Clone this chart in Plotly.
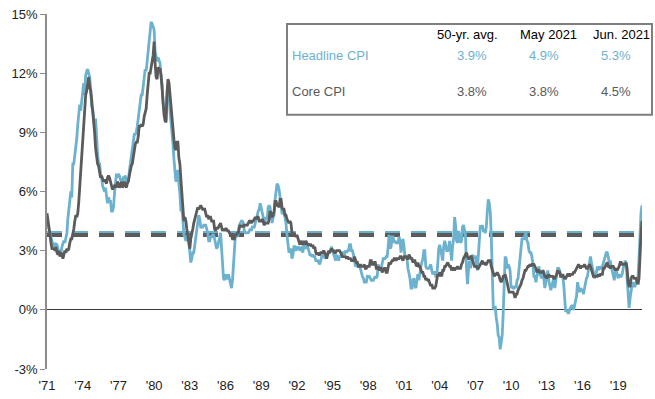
import pandas as pd
import plotly.graph_objects as go

# Year-over-year % change, monthly, Jun 1971 - Jun 2021
headline = [
    4.5, 4.3, 4.1, 3.9, 3.6, 3.4, 3.3,                             # 1971 (Jun-Dec)
    3.2, 3.4, 3.3, 3.3, 3.1, 2.9, 3.0, 2.9, 3.2, 3.4, 3.5, 3.4,   # 1972
    3.6, 3.9, 4.6, 5.1, 5.5, 6.0, 5.7, 7.4, 7.4, 7.8, 8.3, 8.7,   # 1973
    9.4, 10.0, 10.4, 10.1, 10.7, 10.9, 11.5, 10.9, 11.9, 12.1, 12.2, 12.0,  # 1974
    11.8, 11.2, 10.3, 10.2, 9.5, 9.3, 9.7, 8.6, 7.9, 7.4, 7.4, 6.9,  # 1975
    6.7, 6.3, 6.1, 6.0, 6.2, 5.9, 5.4, 5.7, 5.5, 5.5, 5.0, 5.0,   # 1976
    5.2, 5.9, 6.4, 6.9, 6.7, 6.9, 6.8, 6.6, 6.6, 6.4, 6.7, 6.7,   # 1977
    6.8, 6.4, 6.6, 6.5, 7.0, 7.4, 7.7, 7.9, 8.3, 8.9, 8.9, 9.0,   # 1978
    9.3, 9.9, 10.1, 10.5, 10.9, 10.9, 11.3, 11.8, 12.2, 12.1, 12.6, 13.3,  # 1979
    13.9, 14.2, 14.6, 14.5, 14.3, 14.2, 13.1, 12.9, 12.6, 12.8, 12.6, 12.5,  # 1980
    11.8, 11.4, 10.5, 10.0, 9.8, 9.6, 10.8, 10.8, 11.0, 10.1, 9.6, 8.9,  # 1981
    8.4, 7.6, 6.8, 6.5, 6.7, 7.1, 6.4, 5.9, 5.0, 5.1, 4.6, 3.8,   # 1982
    3.7, 3.5, 3.6, 3.9, 3.5, 2.6, 2.4, 2.6, 2.9, 2.9, 3.3, 3.8,   # 1983
    4.2, 4.6, 4.8, 4.6, 4.2, 4.2, 4.2, 4.3, 4.3, 4.3, 4.1, 3.9,   # 1984
    3.5, 3.5, 3.7, 3.7, 3.8, 3.8, 3.6, 3.3, 3.1, 3.2, 3.5, 3.8,   # 1985
    3.9, 3.1, 2.2, 1.6, 1.5, 1.8, 1.6, 1.6, 1.8, 1.5, 1.3, 1.1,   # 1986
    1.5, 2.1, 3.0, 3.8, 3.9, 3.7, 3.9, 4.3, 4.4, 4.5, 4.5, 4.4,   # 1987
    4.0, 3.9, 3.9, 3.9, 3.9, 4.0, 4.1, 4.0, 4.2, 4.2, 4.2, 4.4,   # 1988
    4.7, 4.8, 5.0, 5.1, 5.4, 5.2, 5.0, 4.7, 4.3, 4.5, 4.7, 4.6,   # 1989
    5.2, 5.3, 5.2, 4.7, 4.4, 4.7, 4.8, 5.6, 6.2, 6.4, 6.3, 6.1,   # 1990
    5.7, 5.3, 4.9, 4.9, 5.0, 4.7, 4.4, 3.8, 3.4, 2.9, 3.0, 3.1,   # 1991
    2.6, 2.8, 3.2, 3.2, 3.0, 3.1, 3.2, 3.1, 3.0, 3.2, 3.0, 2.9,   # 1992
    3.3, 3.2, 3.1, 3.2, 3.2, 3.0, 2.8, 2.8, 2.7, 2.8, 2.7, 2.7,   # 1993
    2.5, 2.5, 2.5, 2.4, 2.3, 2.5, 2.8, 2.9, 3.0, 2.6, 2.7, 2.7,   # 1994
    2.8, 2.9, 2.9, 3.1, 3.2, 3.0, 2.8, 2.6, 2.5, 2.8, 2.6, 2.5,   # 1995
    2.7, 2.7, 2.8, 2.9, 2.9, 2.8, 3.0, 2.9, 3.0, 3.0, 3.3, 3.3,   # 1996
    3.0, 3.0, 2.8, 2.5, 2.2, 2.3, 2.2, 2.2, 2.2, 2.1, 1.8, 1.7,   # 1997
    1.6, 1.4, 1.4, 1.4, 1.7, 1.7, 1.7, 1.6, 1.5, 1.5, 1.5, 1.6,   # 1998
    1.7, 1.6, 1.7, 2.3, 2.1, 2.0, 2.1, 2.3, 2.6, 2.6, 2.6, 2.7,   # 1999
    2.7, 3.2, 3.8, 3.1, 3.2, 3.7, 3.7, 3.4, 3.5, 3.4, 3.4, 3.4,   # 2000
    3.7, 3.5, 2.9, 3.3, 3.6, 3.2, 2.7, 2.7, 2.6, 2.1, 1.9, 1.6,   # 2001
    1.1, 1.1, 1.5, 1.6, 1.2, 1.1, 1.5, 1.8, 1.5, 2.0, 2.2, 2.4,   # 2002
    2.6, 3.0, 3.0, 2.2, 2.1, 2.1, 2.1, 2.2, 2.3, 2.0, 1.8, 1.9,   # 2003
    1.9, 1.7, 1.7, 2.3, 3.1, 3.3, 3.0, 2.7, 2.5, 3.2, 3.5, 3.3,   # 2004
    3.0, 3.0, 3.1, 3.5, 2.8, 2.5, 3.2, 3.6, 4.7, 4.3, 3.5, 3.4,   # 2005
    4.0, 3.6, 3.4, 3.5, 4.2, 4.3, 4.1, 3.8, 2.1, 1.3, 2.0, 2.5,   # 2006
    2.1, 2.4, 2.8, 2.6, 2.7, 2.7, 2.4, 2.0, 2.8, 3.5, 4.3, 4.1,   # 2007
    4.3, 4.0, 4.0, 3.9, 4.2, 5.0, 5.6, 5.4, 4.9, 3.7, 1.1, 0.1,   # 2008
    0.0, 0.2, -0.4, -0.7, -1.3, -1.4, -2.0, -1.5, -1.3, -0.2, 1.8, 2.7,  # 2009
    2.6, 2.1, 2.3, 2.2, 2.0, 1.1, 1.2, 1.1, 1.1, 1.2, 1.1, 1.5,   # 2010
    1.6, 2.1, 2.7, 3.2, 3.6, 3.6, 3.6, 3.8, 3.9, 3.5, 3.4, 3.0,   # 2011
    2.9, 2.9, 2.7, 2.3, 1.7, 1.7, 1.4, 1.7, 2.0, 2.2, 1.8, 1.7,   # 2012
    1.6, 2.0, 1.5, 1.1, 1.4, 1.8, 2.0, 1.5, 1.2, 1.0, 1.2, 1.5,   # 2013
    1.6, 1.1, 1.5, 2.0, 2.1, 2.1, 2.0, 1.7, 1.7, 1.7, 1.3, 0.8,   # 2014
    -0.1, 0.0, -0.1, -0.2, 0.0, 0.1, 0.2, 0.2, 0.0, 0.2, 0.5, 0.7,  # 2015
    1.4, 1.0, 0.9, 1.1, 1.0, 1.0, 0.8, 1.1, 1.5, 1.6, 1.7, 2.1,   # 2016
    2.5, 2.7, 2.4, 2.2, 1.9, 1.6, 1.7, 1.9, 2.2, 2.0, 2.2, 2.1,   # 2017
    2.1, 2.2, 2.4, 2.5, 2.8, 2.9, 2.9, 2.7, 2.3, 2.5, 2.2, 1.9,   # 2018
    1.6, 1.5, 1.9, 2.0, 1.8, 1.6, 1.8, 1.7, 1.7, 1.8, 2.1, 2.3,   # 2019
    2.5, 2.3, 1.5, 0.3, 0.1, 0.6, 1.0, 1.3, 1.4, 1.2, 1.2, 1.4,   # 2020
    1.4, 1.7, 2.6, 4.2, 4.9, 5.3,                                 # 2021
]

core = [
    4.9, 4.6, 4.3, 3.8, 3.4, 3.1, 3.1,                             # 1971 (Jun-Dec)
    3.1, 3.0, 3.2, 2.9, 2.8, 3.0, 2.7, 2.9, 2.8, 2.6, 2.9, 3.0,   # 1972
    2.9, 3.1, 3.0, 3.1, 3.4, 3.6, 3.6, 3.8, 4.1, 4.5, 4.8, 4.7,   # 1973
    4.9, 5.5, 6.2, 7.0, 8.3, 9.0, 9.6, 10.3, 10.9, 11.1, 11.5, 11.8,  # 1974
    11.3, 11.1, 10.7, 10.2, 9.6, 9.0, 8.2, 7.6, 7.4, 7.3, 6.9, 6.7,  # 1975
    6.8, 6.6, 6.5, 6.6, 6.5, 6.4, 6.7, 6.8, 6.7, 6.5, 6.3, 6.1,   # 1976
    6.2, 6.3, 6.3, 6.2, 6.5, 6.4, 6.2, 6.3, 6.5, 6.2, 6.3, 6.5,   # 1977
    6.3, 6.2, 6.4, 6.5, 6.8, 7.1, 7.3, 7.4, 7.8, 8.2, 8.4, 8.5,   # 1978
    8.5, 8.8, 9.3, 9.3, 9.4, 9.3, 9.4, 9.8, 10.1, 10.2, 10.9, 11.3,  # 1979
    12.0, 12.0, 12.4, 12.6, 12.9, 13.6, 12.5, 11.8, 11.7, 12.3, 12.2, 12.2,  # 1980
    11.9, 11.1, 10.4, 9.9, 9.6, 9.5, 11.0, 11.7, 11.5, 10.9, 10.3, 9.5,  # 1981
    9.0, 8.6, 8.2, 8.1, 8.5, 8.5, 7.7, 7.4, 6.6, 6.0, 5.5, 4.5,   # 1982
    4.7, 4.5, 4.1, 3.8, 3.4, 3.1, 3.6, 3.8, 4.1, 4.4, 4.6, 4.7,   # 1983
    4.9, 5.2, 5.1, 5.2, 5.3, 5.2, 5.1, 5.1, 5.1, 4.9, 4.7, 4.8,   # 1984
    4.6, 4.7, 4.7, 4.5, 4.5, 4.5, 4.1, 4.0, 4.2, 4.1, 4.2, 4.3,   # 1985
    4.4, 4.2, 4.0, 4.1, 4.0, 4.1, 4.1, 4.0, 4.0, 3.9, 3.8, 3.8,   # 1986
    3.6, 3.6, 3.6, 3.8, 3.8, 3.9, 3.9, 4.2, 4.3, 4.2, 4.3, 4.2,   # 1987
    4.3, 4.3, 4.3, 4.3, 4.4, 4.5, 4.5, 4.4, 4.5, 4.5, 4.6, 4.7,   # 1988
    4.6, 4.7, 4.7, 4.5, 4.5, 4.5, 4.6, 4.5, 4.3, 4.4, 4.4, 4.4,   # 1989
    4.4, 4.6, 5.0, 4.9, 4.7, 4.8, 5.0, 5.5, 5.5, 5.3, 5.3, 5.2,   # 1990
    5.6, 5.6, 5.2, 5.1, 5.1, 4.8, 4.8, 4.6, 4.5, 4.4, 4.5, 4.4,   # 1991
    3.9, 3.8, 3.9, 3.8, 3.7, 3.8, 3.6, 3.4, 3.3, 3.5, 3.4, 3.3,   # 1992
    3.5, 3.3, 3.5, 3.4, 3.3, 3.3, 3.3, 3.3, 3.2, 3.3, 3.1, 3.2,   # 1993
    2.9, 2.8, 2.9, 2.8, 2.8, 2.9, 2.9, 2.9, 3.0, 2.9, 2.8, 2.6,   # 1994
    2.9, 3.0, 2.9, 3.0, 3.1, 3.0, 3.0, 2.9, 2.9, 3.0, 3.0, 3.0,   # 1995
    3.0, 2.9, 2.8, 2.7, 2.7, 2.7, 2.7, 2.6, 2.7, 2.6, 2.6, 2.6,   # 1996
    2.5, 2.5, 2.5, 2.7, 2.5, 2.4, 2.4, 2.2, 2.2, 2.3, 2.2, 2.2,   # 1997
    2.2, 2.3, 2.1, 2.1, 2.2, 2.2, 2.2, 2.5, 2.5, 2.3, 2.3, 2.4,   # 1998
    2.4, 2.1, 2.1, 2.2, 2.0, 2.1, 2.1, 1.9, 2.0, 2.1, 2.1, 1.9,   # 1999
    1.9, 2.2, 2.4, 2.3, 2.4, 2.5, 2.5, 2.6, 2.6, 2.5, 2.6, 2.6,   # 2000
    2.6, 2.7, 2.7, 2.6, 2.5, 2.7, 2.7, 2.7, 2.6, 2.6, 2.8, 2.7,   # 2001
    2.6, 2.6, 2.4, 2.5, 2.5, 2.3, 2.2, 2.4, 2.2, 2.2, 2.0, 1.9,   # 2002
    1.9, 1.7, 1.7, 1.5, 1.6, 1.5, 1.5, 1.3, 1.2, 1.3, 1.1, 1.1,   # 2003
    1.1, 1.2, 1.6, 1.8, 1.7, 1.9, 1.8, 1.7, 2.0, 2.0, 2.2, 2.2,   # 2004
    2.3, 2.4, 2.3, 2.2, 2.2, 2.0, 2.1, 2.1, 2.0, 2.1, 2.1, 2.2,   # 2005
    2.1, 2.1, 2.1, 2.3, 2.4, 2.6, 2.7, 2.8, 2.9, 2.7, 2.6, 2.6,   # 2006
    2.7, 2.7, 2.5, 2.3, 2.2, 2.2, 2.2, 2.1, 2.1, 2.2, 2.3, 2.4,   # 2007
    2.5, 2.3, 2.4, 2.3, 2.3, 2.4, 2.5, 2.5, 2.5, 2.2, 2.0, 1.8,   # 2008
    1.7, 1.8, 1.8, 1.9, 1.8, 1.7, 1.5, 1.4, 1.5, 1.7, 1.7, 1.8,   # 2009
    1.6, 1.3, 1.1, 0.9, 0.9, 0.9, 0.9, 0.9, 0.8, 0.6, 0.8, 0.8,   # 2010
    1.0, 1.1, 1.2, 1.3, 1.5, 1.6, 1.8, 2.0, 2.0, 2.1, 2.2, 2.2,   # 2011
    2.3, 2.2, 2.3, 2.3, 2.3, 2.2, 2.1, 1.9, 2.0, 2.0, 1.9, 1.9,   # 2012
    1.9, 2.0, 1.9, 1.7, 1.7, 1.6, 1.7, 1.8, 1.7, 1.7, 1.7, 1.7,   # 2013
    1.6, 1.6, 1.7, 1.8, 2.0, 1.9, 1.9, 1.7, 1.7, 1.8, 1.7, 1.6,   # 2014
    1.6, 1.7, 1.8, 1.8, 1.7, 1.8, 1.8, 1.8, 1.9, 1.9, 2.0, 2.1,   # 2015
    2.2, 2.3, 2.2, 2.1, 2.2, 2.2, 2.2, 2.3, 2.2, 2.1, 2.1, 2.2,   # 2016
    2.3, 2.2, 2.0, 1.9, 1.7, 1.7, 1.7, 1.7, 1.7, 1.8, 1.7, 1.8,   # 2017
    1.8, 1.8, 2.1, 2.1, 2.2, 2.3, 2.4, 2.2, 2.2, 2.1, 2.2, 2.2,   # 2018
    2.2, 2.1, 2.0, 2.1, 2.0, 2.1, 2.2, 2.4, 2.4, 2.3, 2.3, 2.3,   # 2019
    2.3, 2.4, 2.1, 1.4, 1.2, 1.2, 1.6, 1.7, 1.7, 1.6, 1.6, 1.6,   # 2020
    1.4, 1.3, 1.6, 3.0, 3.8, 4.5,                                 # 2021
]

headline_avg = 3.9
core_avg = 3.8

tick_years = list(range(1971, 2020, 3))
tick_labels = ["'" + str(y)[2:] for y in tick_years]

table_cols = ["50-yr. avg.", "May 2021", "Jun. 2021"]
table_rows = ["Headline CPI", "Core CPI"]
table_vals = [["3.9%", "4.9%", "5.3%"], ["3.8%", "3.8%", "4.5%"]]

dates = pd.date_range("1971-06-01", periods=len(headline), freq="MS")

BLUE = "#6cb2cf"
GRAY = "#5b5b5b"
FONT = "Liberation Sans, Arial, sans-serif"

fig = go.Figure()
fig.add_trace(go.Scatter(x=[dates[0], dates[-1]], y=[headline_avg, headline_avg], mode="lines",
                         line=dict(color=BLUE, width=4, dash="15px,11px"), hoverinfo="skip"))
fig.add_trace(go.Scatter(x=[dates[0], dates[-1]], y=[core_avg, core_avg], mode="lines",
                         line=dict(color=GRAY, width=4, dash="15px,11px"), hoverinfo="skip"))
fig.add_trace(go.Scatter(x=dates, y=headline, mode="lines", name="Headline CPI",
                         line=dict(color=BLUE, width=2.8)))
fig.add_trace(go.Scatter(x=dates, y=core, mode="lines", name="Core CPI",
                         line=dict(color=GRAY, width=2.8)))

L, R, T, B = 47, 13, 14, 29.5
W, H = 655, 399
pw, ph = W - L - R, H - T - B

def px(x):
    return (x - L) / pw

def py(y):
    return (H - B - y) / ph

fig.add_shape(type="rect", xref="paper", yref="paper",
              x0=px(287), x1=px(652), y0=py(115), y1=py(24),
              line=dict(color="#7f7f7f", width=2), fillcolor="white", layer="above")

annotations = []
head_x = [467, 548, 621]
val_x = [472, 544, 616]
for cx, txt in zip(head_x, table_cols):
    annotations.append(dict(x=px(cx), y=py(35), text=txt, font=dict(color="#000000", size=13)))
row_y = [56, 92]
row_colors = [BLUE, "#595959"]
for r, (ry, lab, col) in enumerate(zip(row_y, table_rows, row_colors)):
    annotations.append(dict(x=px(290), y=py(ry), text=lab, xanchor="left", font=dict(color=col, size=13)))
    for cx, v in zip(val_x, table_vals[r]):
        annotations.append(dict(x=px(cx), y=py(ry), text=v, font=dict(color=col, size=13)))
for a in annotations:
    a.update(xref="paper", yref="paper", showarrow=False, yanchor="middle")
    a.setdefault("xanchor", "center")
    a["font"]["family"] = FONT

fig.update_layout(
    width=W, height=H,
    margin=dict(l=L, r=R, t=T, b=B, autoexpand=False),
    paper_bgcolor="white", plot_bgcolor="white",
    showlegend=False,
    font=dict(family=FONT, size=13, color="#222222"),
    annotations=annotations,
    xaxis=dict(type="date", range=[dates[0], dates[-1]], automargin=False,
               tickvals=[pd.Timestamp(f"{y}-06-01") for y in tick_years], ticktext=tick_labels,
               showgrid=False, zeroline=False, showline=False, ticks="",
               ticklabelstandoff=7,
               tickfont=dict(size=13, color="#222222")),
    yaxis=dict(range=[-3, 15], tickvals=[-3, 0, 3, 6, 9, 12, 15], automargin=False,
               ticktext=["-3%", "0%", "3%", "6%", "9%", "12%", "15%"],
               showgrid=False, zeroline=True, zerolinecolor="#3a3a3a", zerolinewidth=1,
               showline=True, linecolor="#8c8c8c", linewidth=1.5,
               ticks="outside", ticklen=5, tickcolor="#8c8c8c",
               tickfont=dict(size=13, color="#222222")),
)

fig.write_html("out.html")
